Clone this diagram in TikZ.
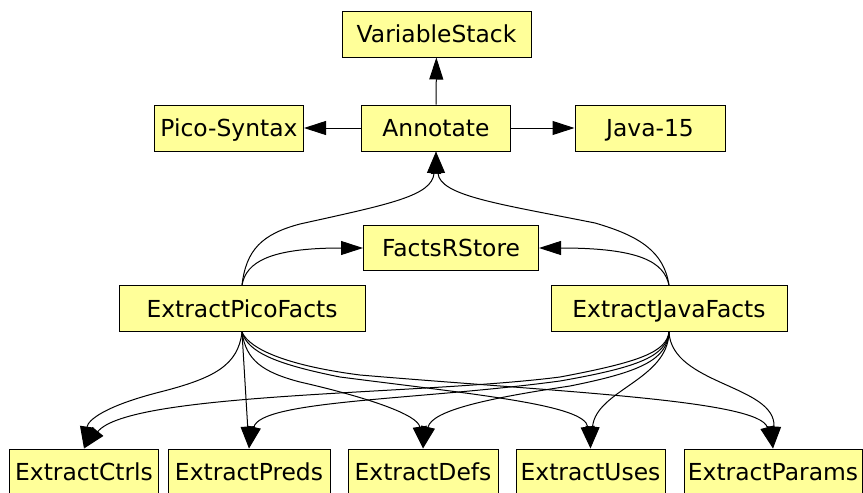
\documentclass[tikz,border=0pt]{standalone}
\usepackage{fontspec}
\setmainfont{DejaVu Sans}
\usetikzlibrary{arrows.meta}
\definecolor{boxyellow}{HTML}{FFFF99}

\begin{document}
\begin{tikzpicture}[x=0.5pt, y=-0.5pt, line width=0.5pt,
        module/.style={draw, fill=boxyellow, inner sep=0pt, minimum height=23pt,
            text height=8.5pt, text depth=0pt, font=\fontsize{11.7}{14}\selectfont},
        dep/.style={-{Triangle[length=11pt, width=7pt]}}]
    \useasboundingbox (0,0) rectangle (863,493);
    \node[module, minimum width=94.5pt] (varstack) at (436.5,34) {VariableStack};
    \node[module, minimum width=74.5pt] (syntax) at (229,128) {Pico-Syntax};
    \node[module, minimum width=74.5pt] (annot) at (436,128) {Annotate};
    \node[module, minimum width=75pt] (java) at (650,128) {Java-15};
    \node[module, minimum width=87.5pt, minimum height=22.5pt] (store) at (451,248) {FactsRStore};
    \node[module, minimum width=123pt] (pico) at (242,308.7) {ExtractPicoFacts};
    \node[module, minimum width=118pt] (javafx) at (669,308.7) {ExtractJavaFacts};
    \node[module, minimum width=74.5pt] (ctrls) at (84,472) {ExtractCtrls};
    \node[module, minimum width=81pt] (preds) at (249,472) {ExtractPreds};
    \node[module, minimum width=75pt] (defs) at (423,472) {ExtractDefs};
    \node[module, minimum width=74.5pt] (uses) at (590.5,472) {ExtractUses};
    \node[module, minimum width=89pt] (params) at (773,472) {ExtractParams};

    \draw[dep] (annot) -- (varstack);
    \draw[dep] (annot) -- (syntax);
    \draw[dep] (annot) -- (java);

    \draw[dep] (pico.north) .. controls (246,250) and (262,234) .. (300,224) .. controls (390,204) and (432,196) .. (annot.south);
    \draw[dep] (javafx.north) .. controls (664,252) and (640,236) .. (595,223) .. controls (500,204) and (440,196) .. (annot.south);
    \draw[dep] (pico.north) .. controls (246,262) and (270,248) .. (store.west);
    \draw[dep] (javafx.north) .. controls (664,262) and (640,248) .. (store.east);

    \draw[dep] (pico.south) .. controls (238,365) and (215,378) .. (160,392) .. controls (105,406) and (88,420) .. (ctrls.north);
    \draw[dep] (pico.south) -- (preds.north);
    \draw[dep] (pico.south) .. controls (246,360) and (262,372) .. (300,382) .. controls (370,398) and (418,415) .. (defs.north);
    \draw[dep] (pico.south) .. controls (248,352) and (275,364) .. (340,377) .. controls (480,395) and (585,405) .. (uses.north);
    \draw[dep] (pico.south) .. controls (250,350) and (290,366) .. (360,375) .. controls (560,392) and (760,400) .. (params.north);

    \draw[dep] (javafx.south) .. controls (666,352) and (640,362) .. (560,377) .. controls (420,395) and (130,392) .. (ctrls.north);
    \draw[dep] (javafx.south) .. controls (666,356) and (640,367) .. (560,381) .. controls (420,400) and (260,400) .. (preds.north);
    \draw[dep] (javafx.south) .. controls (667,360) and (640,372) .. (570,386) .. controls (490,398) and (432,410) .. (defs.north);
    \draw[dep] (javafx.south) .. controls (668,380) and (596,390) .. (uses.north);
    \draw[dep] (javafx.south) .. controls (672,385) and (776,385) .. (params.north);
\end{tikzpicture}
\end{document}
